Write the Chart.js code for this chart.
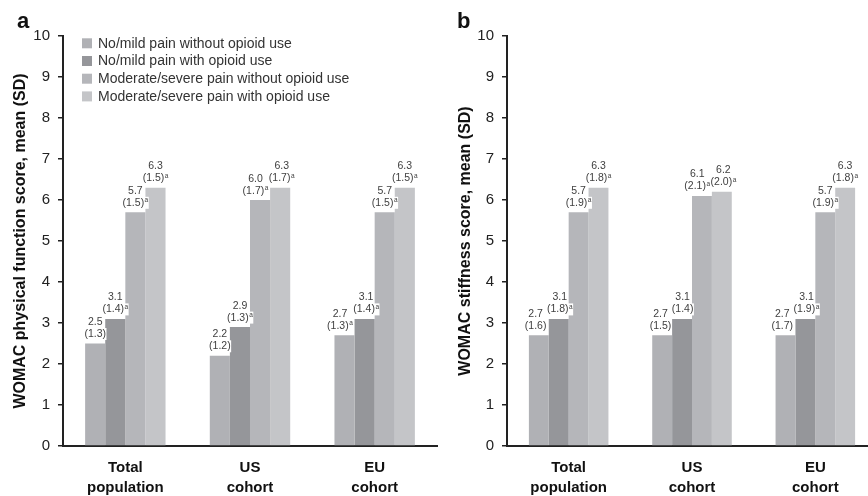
<!DOCTYPE html>
<html><head><meta charset="utf-8">
<script src="https://cdn.jsdelivr.net/npm/chart.js@4"></script>
<style>
html,body{margin:0;padding:0;background:#fff;overflow:hidden;width:868px;height:496px;}
#wrap{position:relative;width:868px;height:496px;overflow:hidden;}
canvas{position:absolute;top:0;}
#ca{left:0px;} #cb{left:440px;}
.pl{position:absolute;font:bold 22px "Liberation Sans",Arial,sans-serif;line-height:22px;color:#111;}
</style></head><body>
<div id="wrap">
<canvas id="ca" width="440" height="496"></canvas>
<canvas id="cb" width="440" height="496"></canvas>
<div class="pl" style="left:17px;top:10px">a</div>
<div class="pl" style="left:457px;top:10px">b</div>
</div>
<script>
// ---- data ----
const categories = [['Total', 'population'], ['US', 'cohort'], ['EU', 'cohort']];
const seriesNames = [
  'No/mild pain without opioid use',
  'No/mild pain with opioid use',
  'Moderate/severe pain without opioid use',
  'Moderate/severe pain with opioid use'
];
const yTickMin = 0;
const yTickMax = 10;
const yTickStep = 1;

// Panel a: WOMAC physical function
const physNoMildWithout = [2.5, 2.2, 2.7];
const physNoMildWith = [3.1, 2.9, 3.1];
const physModSevWithout = [5.7, 6.0, 5.7];
const physModSevWith = [6.3, 6.3, 6.3];
const physSdNoMildWithout = [1.3, 1.2, 1.3];
const physSdNoMildWith = [1.4, 1.3, 1.4];
const physSdModSevWithout = [1.5, 1.7, 1.5];
const physSdModSevWith = [1.5, 1.7, 1.5];
const physSupNoMildWithout = [false, false, true];
const physSupNoMildWith = [true, true, true];
const physSupModSevWithout = [true, true, true];
const physSupModSevWith = [true, true, true];

// Panel b: WOMAC stiffness
const stifNoMildWithout = [2.7, 2.7, 2.7];
const stifNoMildWith = [3.1, 3.1, 3.1];
const stifModSevWithout = [5.7, 6.1, 5.7];
const stifModSevWith = [6.3, 6.2, 6.3];
const stifSdNoMildWithout = [1.6, 1.5, 1.7];
const stifSdNoMildWith = [1.8, 1.4, 1.9];
const stifSdModSevWithout = [1.9, 2.1, 1.9];
const stifSdModSevWith = [1.8, 2.0, 1.8];
const stifSupNoMildWithout = [false, false, false];
const stifSupNoMildWith = [true, false, true];
const stifSupModSevWithout = [true, true, true];
const stifSupModSevWith = [true, true, true];

// ---- styling ----
const seriesColors = ['#b0b1b5', '#95969a', '#b5b6ba', '#c4c5c8'];
const FONT = '"Liberation Sans", Arial, Helvetica, sans-serif';
const LBL_FONT = '10.5px ' + FONT;
const SUP_FONT = '6.5px ' + FONT;

const valueLabels = {
  id: 'valueLabels',
  afterDatasetsDraw(chart) {
    const ctx = chart.ctx;
    const nCat = chart.data.labels.length;
    const nDs = chart.data.datasets.length;
    for (let j = 0; j < nCat; j++) {
      const boxes = [];
      for (let i = 0; i < nDs; i++) {
        const ds = chart.data.datasets[i];
        const bar = chart.getDatasetMeta(i).data[j];
        const l1 = ds.data[j].toFixed(1);
        const l2 = '(' + ds.sd[j].toFixed(1) + ')';
        const sup = ds.sup[j];
        ctx.font = LBL_FONT;
        const w1 = ctx.measureText(l1).width;
        const w2 = ctx.measureText(l2).width;
        ctx.font = SUP_FONT;
        const ws = sup ? ctx.measureText('a').width + 0.5 : 0;
        const wl2 = w2 + ws;
        const top = bar.y;
        const b2 = top - 6.5, b1 = b2 - 12;
        const w = Math.max(w1, wl2);
        boxes.push({ l1, l2, sup, w1, w2, wl2, w, cx: bar.x, b1, b2, top, y0: b1 - 9, y1: b2 + 2 });
      }
      // simple collision avoidance between neighbouring labels
      for (let i = 0; i < nDs - 1; i++) {
        const a = boxes[i], b = boxes[i + 1];
        const vOverlap = Math.min(a.y1, b.y1) - Math.max(a.y0, b.y0);
        if (vOverlap <= 0) continue;
        const hOverlap = (a.cx + a.w / 2) - (b.cx - b.w / 2) + 0.5;
        if (hOverlap > 0) {
          a.cx -= hOverlap * 0.75;
          b.cx += hOverlap * 0.25;
        }
      }
      boxes.forEach(bx => {
        ctx.save();
        ctx.fillStyle = '#ffffff';
        ctx.fillRect(bx.cx - bx.w1 / 2 - 0.5, bx.b1 - 9, bx.w1 + 1, 12);
        ctx.fillRect(bx.cx - bx.wl2 / 2 - 0.5, bx.b2 - 9, bx.wl2 + 1, 12);
        ctx.fillStyle = '#404040';
        ctx.textBaseline = 'alphabetic';
        ctx.textAlign = 'left';
        ctx.font = LBL_FONT;
        ctx.fillText(bx.l1, bx.cx - bx.w1 / 2, bx.b1);
        const x2 = bx.cx - bx.wl2 / 2;
        ctx.fillText(bx.l2, x2, bx.b2);
        if (bx.sup) {
          ctx.font = SUP_FONT;
          ctx.fillText('a', x2 + bx.w2 + 0.5, bx.b2 - 3.5);
        }
        ctx.restore();
      });
    }
  }
};

const boxLegend = {
  id: 'boxLegend',
  afterDraw(chart, args, opts) {
    if (!opts.show) return;
    const ctx = chart.ctx;
    ctx.save();
    ctx.font = '14px ' + FONT;
    ctx.textBaseline = 'middle';
    ctx.textAlign = 'left';
    chart.data.datasets.forEach((ds, i) => {
      const cy = opts.y0 + i * opts.step;
      ctx.fillStyle = ds.backgroundColor;
      ctx.fillRect(opts.x0, cy - 5, 10, 10);
      ctx.fillStyle = '#333333';
      ctx.fillText(ds.label, opts.x0 + 16, cy + 0.5);
    });
    ctx.restore();
  }
};

function makeChart(id, yTitle, means, sds, sups, axisX, titlePad, showLegend) {
  const datasets = means.map((m, i) => ({
    label: seriesNames[i],
    data: m,
    sd: sds[i],
    sup: sups[i],
    backgroundColor: seriesColors[i],
    borderWidth: 0,
    categoryPercentage: 0.645,
    barPercentage: 1.0
  }));
  return new Chart(document.getElementById(id), {
    type: 'bar',
    data: { labels: categories, datasets },
    options: {
      responsive: false,
      animation: false,
      devicePixelRatio: 1,
      layout: { padding: { top: 36, right: 3, left: 0, bottom: 0 } },
      plugins: {
        legend: { display: false },
        tooltip: { enabled: false },
        boxLegend: { show: showLegend, x0: 82, y0: 43.3, step: 17.7 }
      },
      scales: {
        x: {
          grid: { display: false, drawTicks: false },
          border: { display: true, color: '#222', width: 2 },
          ticks: {
            color: '#111',
            font: { family: FONT, size: 15, weight: 'bold', lineHeight: 1.33 },
            padding: 12,
            maxRotation: 0
          },
          afterFit(s) { s.height = 50; }
        },
        y: {
          min: yTickMin, max: yTickMax,
          ticks: {
            stepSize: yTickStep,
            color: '#222',
            font: { family: FONT, size: 15 },
            padding: 8
          },
          grid: { drawOnChartArea: false, drawTicks: true, tickLength: 5, color: '#222', lineWidth: 1.5 },
          border: { display: true, color: '#222', width: 2 },
          title: {
            display: true,
            text: yTitle,
            color: '#111',
            font: { family: FONT, size: 16, weight: 'bold', lineHeight: 1.2 },
            padding: { top: titlePad, bottom: 0 }
          },
          afterFit(s) { s.width = axisX; }
        }
      }
    },
    plugins: [valueLabels, boxLegend]
  });
}

makeChart('ca', 'WOMAC physical function score, mean (SD)',
  [physNoMildWithout, physNoMildWith, physModSevWithout, physModSevWith],
  [physSdNoMildWithout, physSdNoMildWith, physSdModSevWithout, physSdModSevWith],
  [physSupNoMildWithout, physSupNoMildWith, physSupModSevWithout, physSupModSevWith],
  63, 10.5, true);

makeChart('cb', 'WOMAC stiffness score, mean (SD)',
  [stifNoMildWithout, stifNoMildWith, stifModSevWithout, stifModSevWith],
  [stifSdNoMildWithout, stifSdNoMildWith, stifSdModSevWithout, stifSdModSevWith],
  [stifSupNoMildWithout, stifSupNoMildWith, stifSupModSevWithout, stifSupModSevWith],
  67, 16, false);
</script>
</body></html>
